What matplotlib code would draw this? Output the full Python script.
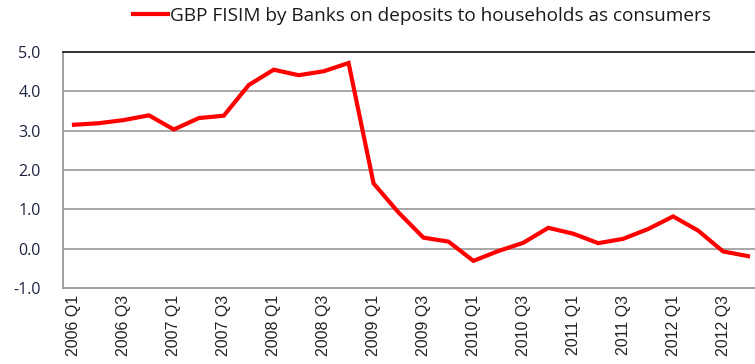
import numpy as np
import matplotlib.pyplot as plt

# Quarterly series, 2006 Q1 - 2012 Q4
years = list(range(2006, 2013))
quarters = [f"{y} Q{q}" for y in years for q in range(1, 5)]
fisim = [3.15, 3.19, 3.27, 3.39, 3.03, 3.32, 3.38, 4.16,
         4.55, 4.41, 4.51, 4.72, 1.66, 0.92, 0.28, 0.18,
         -0.31, -0.06, 0.15, 0.53, 0.38, 0.14, 0.25, 0.50,
         0.82, 0.46, -0.07, -0.19]
series_label = "GBP FISIM by Banks on deposits to households as consumers"
y_ticks = [-1.0, 0.0, 1.0, 2.0, 3.0, 4.0, 5.0]

plt.rcParams['font.family'] = ['Liberation Sans', 'DejaVu Sans']

fig = plt.figure(figsize=(7.55, 3.64), dpi=100)
ax = fig.add_axes([63 / 755, 76 / 364, 692 / 755, 236 / 364])

x = np.arange(len(quarters))
line, = ax.plot(x, fisim, color='#ff0000', linewidth=3.0, solid_joinstyle='miter',
                label=series_label)

ax.set_xlim(-0.44, 27.28)
ax.set_ylim(-1.0, 5.0)
ax.set_yticks(y_ticks)
ax.set_yticklabels([f"{v:.1f}" for v in y_ticks], fontsize=11.5, color='#1c2340',
                   family=['Open Sans', 'DejaVu Sans'])
ax.set_xticks(x[::2])
ax.set_xticklabels(quarters[::2], rotation=90, fontsize=11.5, color='#222222')
ax.tick_params(axis='y', length=0, pad=16)
ax.tick_params(axis='x', length=0, pad=5)

for v in y_ticks[1:-1]:
    ax.axhline(v, color='#a0a0a0', linewidth=1.3, zorder=0)

for side in ['left', 'bottom']:
    ax.spines[side].set_color('#909090')
    ax.spines[side].set_linewidth(1.2)
ax.spines['top'].set_color('#222222')
ax.spines['top'].set_linewidth(1.3)
ax.spines['right'].set_visible(False)

leg = fig.legend(handles=[line], loc='center left', bbox_to_anchor=(133 / 755, 1 - 16 / 364),
                 frameon=False, handlelength=1.85, handletextpad=0.1,
                 borderaxespad=0, borderpad=0,
                 prop={'family': ['Open Sans', 'DejaVu Sans'], 'size': 13.7})
for t in leg.get_texts():
    t.set_color('#1a1a1a')

fig.savefig('out.png', dpi=100)
